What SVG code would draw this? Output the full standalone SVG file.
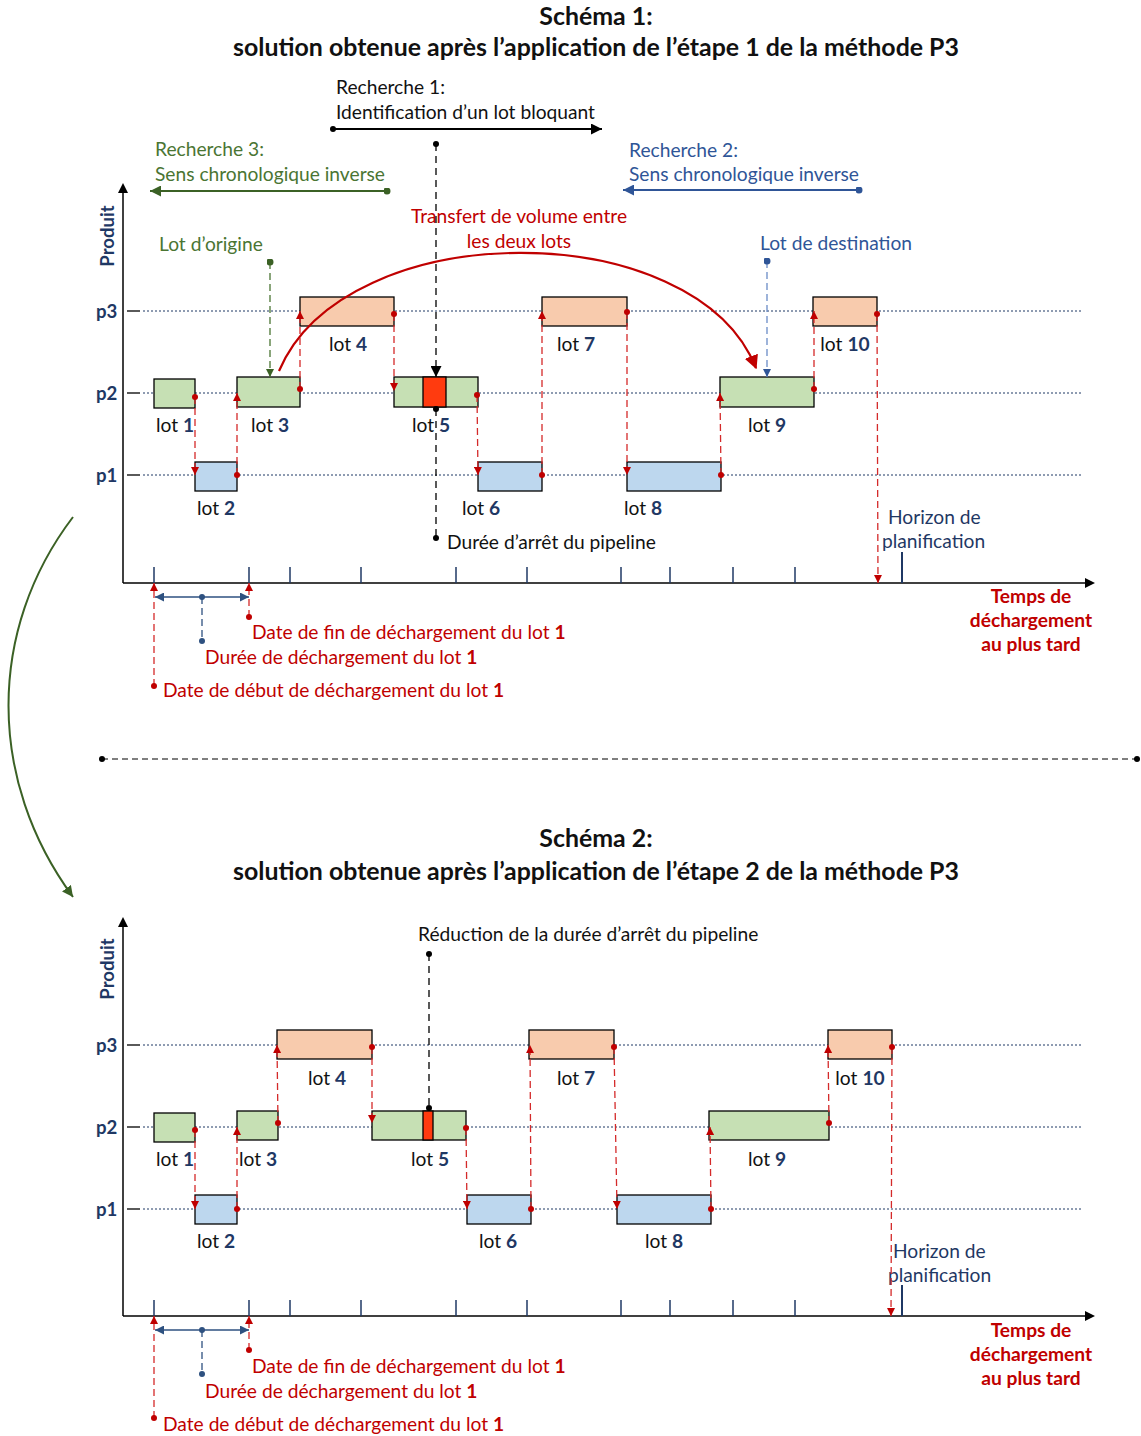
<svg xmlns="http://www.w3.org/2000/svg" width="1141" height="1436" viewBox="0 0 1141 1436">
<defs>
<style>
text{font-family:Lato,"Open Sans","Liberation Sans",sans-serif;font-size:19.2px;fill:#111}
.title{font-weight:bold;font-size:24.9px;text-anchor:middle}
.b{font-weight:bold}
.num{font-weight:bold;fill:#1F3864}
.lbl{text-anchor:middle}
.axl{font-weight:bold;fill:#1F3864;font-size:18.6px}
.red{fill:#C00000}
.redb{fill:#C00000;font-weight:bold;text-anchor:middle}
.grn{fill:#4A7533}
.blu{fill:#2F5597}
.dblu{fill:#1F3864}
.g{stroke:#000;stroke-width:1.3;fill:#C6E0B4}
.bl{stroke:#000;stroke-width:1.3;fill:#BDD7EE}
.o{stroke:#000;stroke-width:1.3;fill:#F8CBAD}
.rs{stroke:#000;stroke-width:1.3;fill:#FF3B0F}
.dot{stroke:#1F3864;stroke-width:1;stroke-dasharray:2,2;fill:none}
.tk{stroke:#000;stroke-width:1.3}
.axis{stroke:#000;stroke-width:1.5;fill:none}
.tick{stroke:#1F3864;stroke-width:1.5}
.rd{stroke:#D42A2A;stroke-width:1.3;stroke-dasharray:7,4;fill:none;marker-start:url(#rDot);marker-end:url(#rArr)}
.bk{stroke:#000;stroke-width:1.3;stroke-dasharray:7,5;fill:none}
</style>
<marker id="rArr" viewBox="0 0 10 10" refX="10" refY="5" markerWidth="8" markerHeight="8" markerUnits="userSpaceOnUse" orient="auto"><path d="M0,0 L10,5 L0,10 z" fill="#C00000"/></marker>
<marker id="rDot" viewBox="0 0 10 10" refX="5" refY="5" markerWidth="6" markerHeight="6" markerUnits="userSpaceOnUse"><circle cx="5" cy="5" r="5" fill="#C00000"/></marker>
<marker id="kArr" viewBox="0 0 10 10" refX="10" refY="5" markerWidth="11" markerHeight="11" markerUnits="userSpaceOnUse" orient="auto"><path d="M0,0 L10,5 L0,10 z" fill="#000"/></marker>
<marker id="kDot" viewBox="0 0 10 10" refX="5" refY="5" markerWidth="6" markerHeight="6" markerUnits="userSpaceOnUse"><circle cx="5" cy="5" r="5" fill="#000"/></marker>
<marker id="gArr" viewBox="0 0 10 10" refX="10" refY="5" markerWidth="11" markerHeight="11" markerUnits="userSpaceOnUse" orient="auto"><path d="M0,0 L10,5 L0,10 z" fill="#3B6125"/></marker>
<marker id="gArrS" viewBox="0 0 10 10" refX="10" refY="5" markerWidth="8" markerHeight="8" markerUnits="userSpaceOnUse" orient="auto"><path d="M0,0 L10,5 L0,10 z" fill="#3B6125"/></marker>
<marker id="gDot" viewBox="0 0 10 10" refX="5" refY="5" markerWidth="7" markerHeight="7" markerUnits="userSpaceOnUse"><circle cx="5" cy="5" r="5" fill="#3B6125"/></marker>
<marker id="bArr" viewBox="0 0 10 10" refX="10" refY="5" markerWidth="11" markerHeight="11" markerUnits="userSpaceOnUse" orient="auto"><path d="M0,0 L10,5 L0,10 z" fill="#2F5597"/></marker>
<marker id="bArrS" viewBox="0 0 10 10" refX="10" refY="5" markerWidth="8" markerHeight="8" markerUnits="userSpaceOnUse" orient="auto"><path d="M0,0 L10,5 L0,10 z" fill="#2F5597"/></marker>
<marker id="bDot" viewBox="0 0 10 10" refX="5" refY="5" markerWidth="7" markerHeight="7" markerUnits="userSpaceOnUse"><circle cx="5" cy="5" r="5" fill="#2F5597"/></marker>
<marker id="nArr" viewBox="0 0 10 10" refX="10" refY="5" markerWidth="9" markerHeight="9" markerUnits="userSpaceOnUse" orient="auto-start-reverse"><path d="M0,0 L10,5 L0,10 z" fill="#2E5180"/></marker>
<marker id="nDot" viewBox="0 0 10 10" refX="5" refY="5" markerWidth="6" markerHeight="6" markerUnits="userSpaceOnUse"><circle cx="5" cy="5" r="5" fill="#2E5180"/></marker>
<marker id="redArr" viewBox="0 0 10 10" refX="9" refY="5" markerWidth="14" markerHeight="14" markerUnits="userSpaceOnUse" orient="auto"><path d="M0,0 L10,5 L0,10 z" fill="#C00000"/></marker>
</defs>
<rect width="1141" height="1436" fill="#fff"/>

<!-- ================= SCHEMA 1 ================= -->
<g id="schema1-title">
<text class="title" x="596" y="25">Schéma 1:</text>
<text class="title" x="596" y="56">solution obtenue après l’application de l’étape 1 de la méthode P3</text>
</g>

<g id="axes1">
<line class="axis" x1="123" y1="583" x2="123" y2="192"/>
<path d="M118,193 L123,183 L128,193 z" fill="#000"/>
<line class="axis" x1="123" y1="583" x2="1086" y2="583"/>
<path d="M1085,578 L1095,583 L1085,588 z" fill="#000"/>
<text class="axl" transform="translate(114,236) rotate(-90)" text-anchor="middle">Produit</text>
<text class="axl" x="96" y="318">p3</text>
<text class="axl" x="96" y="400">p2</text>
<text class="axl" x="96" y="482">p1</text>
<line class="tk" x1="127" y1="311" x2="140" y2="311"/>
<line class="tk" x1="127" y1="393" x2="140" y2="393"/>
<line class="tk" x1="127" y1="475" x2="140" y2="475"/>
<line class="dot" x1="143" y1="311" x2="1082" y2="311"/>
<line class="dot" x1="143" y1="393" x2="1082" y2="393"/>
<line class="dot" x1="143" y1="475" x2="1082" y2="475"/>
<g class="tick">
<line x1="154" y1="567" x2="154" y2="583"/><line x1="249" y1="567" x2="249" y2="583"/>
<line x1="290" y1="567" x2="290" y2="583"/><line x1="361" y1="567" x2="361" y2="583"/>
<line x1="456" y1="567" x2="456" y2="583"/><line x1="527" y1="567" x2="527" y2="583"/>
<line x1="621" y1="567" x2="621" y2="583"/><line x1="670" y1="567" x2="670" y2="583"/>
<line x1="733" y1="567" x2="733" y2="583"/><line x1="795" y1="567" x2="795" y2="583"/>
<line x1="902" y1="552" x2="902" y2="583" stroke-width="2"/>
</g>
<text class="dblu" x="888" y="524">Horizon de</text>
<text class="dblu" x="882" y="548">planification</text>
<text class="redb" x="1031" y="603">Temps de</text>
<text class="redb" x="1031" y="627">déchargement</text>
<text class="redb" x="1031" y="651">au plus tard</text>
</g>

<g id="s1-lot1"><rect class="g" x="154" y="379" width="41" height="29"/><text class="lbl" x="175" y="432">lot <tspan class="num">1</tspan></text></g>
<g id="s1-lot2"><rect class="bl" x="195" y="462" width="42" height="29"/><text class="lbl" x="216" y="515">lot <tspan class="num">2</tspan></text></g>
<g id="s1-lot3"><rect class="g" x="237" y="377" width="63" height="30"/><text class="lbl" x="270" y="432">lot <tspan class="num">3</tspan></text></g>
<g id="s1-lot4"><rect class="o" x="300" y="297" width="94" height="29"/><text class="lbl" x="348" y="351">lot <tspan class="num">4</tspan></text></g>
<g id="s1-lot5"><rect class="g" x="394" y="377" width="84" height="30"/><rect class="rs" x="423" y="377" width="23" height="30"/><text class="lbl" x="431" y="432">lot <tspan class="num">5</tspan></text></g>
<g id="s1-lot6"><rect class="bl" x="478" y="462" width="64" height="29"/><text class="lbl" x="481" y="515">lot <tspan class="num">6</tspan></text></g>
<g id="s1-lot7"><rect class="o" x="542" y="297" width="85" height="29"/><text class="lbl" x="576" y="351">lot <tspan class="num">7</tspan></text></g>
<g id="s1-lot8"><rect class="bl" x="627" y="462" width="94" height="29"/><text class="lbl" x="643" y="515">lot <tspan class="num">8</tspan></text></g>
<g id="s1-lot9"><rect class="g" x="720" y="377" width="94" height="30"/><text class="lbl" x="767" y="432">lot <tspan class="num">9</tspan></text></g>
<g id="s1-lot10"><rect class="o" x="813" y="297" width="64" height="29"/><text class="lbl" x="845" y="351">lot <tspan class="num">10</tspan></text></g>

<g id="s1-annotations">
<text x="336" y="94">Recherche 1:</text>
<text x="336" y="119">Identification d’un lot bloquant</text>
<text class="grn" x="155" y="156">Recherche 3:</text>
<text class="grn" x="155" y="181">Sens chronologique inverse</text>
<text class="blu" x="629" y="157">Recherche 2:</text>
<text class="blu" x="629" y="181">Sens chronologique inverse</text>
<text class="red" x="519" y="223" text-anchor="middle">Transfert de volume entre</text>
<text class="red" x="519" y="248" text-anchor="middle">les deux lots</text>
<text class="grn" x="159" y="251">Lot d’origine</text>
<text class="blu" x="760" y="250">Lot de destination</text>
<text x="447" y="549">Durée d’arrêt du pipeline</text>
</g>

<g id="s1-connectors">
<line x1="333" y1="129" x2="602" y2="129" stroke="#000" stroke-width="1.8" marker-start="url(#kDot)" marker-end="url(#kArr)"/>
<line x1="387" y1="191" x2="150" y2="191" stroke="#3B6125" stroke-width="2" marker-start="url(#gDot)" marker-end="url(#gArr)"/>
<line x1="859" y1="190" x2="623" y2="190" stroke="#2F5597" stroke-width="2" marker-start="url(#bDot)" marker-end="url(#bArr)"/>
<line class="bk" x1="436" y1="144" x2="436" y2="377" marker-start="url(#kDot)" marker-end="url(#kArr)"/>
<line class="bk" x1="436" y1="409" x2="436" y2="538" marker-start="url(#kDot)" marker-end="url(#kDot)"/>
<line x1="270" y1="262" x2="270" y2="377" stroke="#4A7533" stroke-width="1.3" stroke-dasharray="7,4" marker-start="url(#gDot)" marker-end="url(#gArrS)"/>
<line x1="767" y1="261" x2="767" y2="377" stroke="#6A8CC7" stroke-width="1.3" stroke-dasharray="7,4" marker-start="url(#bDot)" marker-end="url(#bArrS)"/>
<path d="M279,371 C345,214 695,214 756,368" fill="none" stroke="#C00000" stroke-width="2.2" marker-end="url(#redArr)"/>
<line class="rd" x1="195" y1="397" x2="195" y2="475"/>
<line class="rd" x1="237" y1="475" x2="237" y2="393"/>
<line class="rd" x1="300" y1="389" x2="300" y2="311"/>
<line class="rd" x1="394" y1="314" x2="394" y2="391"/>
<line class="rd" x1="477" y1="395" x2="478" y2="475"/>
<line class="rd" x1="542" y1="475" x2="542" y2="311"/>
<line class="rd" x1="627" y1="312" x2="627" y2="475"/>
<line class="rd" x1="721" y1="475" x2="720" y2="393"/>
<line class="rd" x1="814" y1="389" x2="814" y2="311"/>
<line class="rd" x1="877" y1="314" x2="878" y2="583"/>
<line class="rd" x1="154" y1="686" x2="154" y2="583"/>
<line class="rd" x1="249" y1="617" x2="249" y2="583"/>
<line x1="155" y1="597" x2="249" y2="597" stroke="#2E5180" stroke-width="1.6" marker-start="url(#nArr)" marker-end="url(#nArr)"/>
<line x1="202" y1="597" x2="202" y2="641" stroke="#2E5180" stroke-width="1.3" stroke-dasharray="7,4" marker-start="url(#nDot)" marker-end="url(#nDot)"/>
</g>
<g id="s1-dates">
<text class="red" x="252" y="639">Date de fin de déchargement du lot <tspan class="b">1</tspan></text>
<text class="red" x="205" y="664">Durée de déchargement du lot <tspan class="b">1</tspan></text>
<text class="red" x="163" y="697">Date de début de déchargement du lot <tspan class="b">1</tspan></text>
</g>

<!-- separator and transition arrow -->
<g id="separator">
<line x1="102" y1="759" x2="1137" y2="759" stroke="#000" stroke-width="1.2" stroke-dasharray="6,4" marker-start="url(#kDot)" marker-end="url(#kDot)"/>
<path d="M73,517 C-13,630 -13,780 73,897" fill="none" stroke="#3B6125" stroke-width="2" marker-end="url(#gArr)"/>
</g>

<!-- ================= SCHEMA 2 ================= -->
<g id="schema2-title">
<text class="title" x="596" y="847">Schéma 2:</text>
<text class="title" x="596" y="880">solution obtenue après l’application de l’étape 2 de la méthode P3</text>
</g>

<g id="axes2">
<line class="axis" x1="123" y1="1316" x2="123" y2="926"/>
<path d="M118,927 L123,917 L128,927 z" fill="#000"/>
<line class="axis" x1="123" y1="1316" x2="1086" y2="1316"/>
<path d="M1085,1311 L1095,1316 L1085,1321 z" fill="#000"/>
<text class="axl" transform="translate(114,969) rotate(-90)" text-anchor="middle">Produit</text>
<text class="axl" x="96" y="1052">p3</text>
<text class="axl" x="96" y="1134">p2</text>
<text class="axl" x="96" y="1216">p1</text>
<line class="tk" x1="127" y1="1045" x2="140" y2="1045"/>
<line class="tk" x1="127" y1="1127" x2="140" y2="1127"/>
<line class="tk" x1="127" y1="1209" x2="140" y2="1209"/>
<line class="dot" x1="143" y1="1045" x2="1082" y2="1045"/>
<line class="dot" x1="143" y1="1127" x2="1082" y2="1127"/>
<line class="dot" x1="143" y1="1209" x2="1082" y2="1209"/>
<g class="tick">
<line x1="154" y1="1300" x2="154" y2="1316"/><line x1="249" y1="1300" x2="249" y2="1316"/>
<line x1="290" y1="1300" x2="290" y2="1316"/><line x1="361" y1="1300" x2="361" y2="1316"/>
<line x1="456" y1="1300" x2="456" y2="1316"/><line x1="527" y1="1300" x2="527" y2="1316"/>
<line x1="621" y1="1300" x2="621" y2="1316"/><line x1="670" y1="1300" x2="670" y2="1316"/>
<line x1="733" y1="1300" x2="733" y2="1316"/><line x1="795" y1="1300" x2="795" y2="1316"/>
<line x1="902" y1="1285" x2="902" y2="1316" stroke-width="2"/>
</g>
<text class="dblu" x="893" y="1258">Horizon de</text>
<text class="dblu" x="888" y="1282">planification</text>
<text class="redb" x="1031" y="1337">Temps de</text>
<text class="redb" x="1031" y="1361">déchargement</text>
<text class="redb" x="1031" y="1385">au plus tard</text>
</g>

<g id="s2-lot1"><rect class="g" x="154" y="1113" width="41" height="29"/><text class="lbl" x="175" y="1166">lot <tspan class="num">1</tspan></text></g>
<g id="s2-lot2"><rect class="bl" x="195" y="1195" width="42" height="29"/><text class="lbl" x="216" y="1248">lot <tspan class="num">2</tspan></text></g>
<g id="s2-lot3"><rect class="g" x="237" y="1111" width="41" height="29"/><text class="lbl" x="258" y="1166">lot <tspan class="num">3</tspan></text></g>
<g id="s2-lot4"><rect class="o" x="277" y="1030" width="95" height="29"/><text class="lbl" x="327" y="1085">lot <tspan class="num">4</tspan></text></g>
<g id="s2-lot5"><rect class="g" x="372" y="1111" width="94" height="29"/><rect class="rs" x="423" y="1111" width="10" height="29"/><text class="lbl" x="430" y="1166">lot <tspan class="num">5</tspan></text></g>
<g id="s2-lot6"><rect class="bl" x="467" y="1195" width="64" height="29"/><text class="lbl" x="498" y="1248">lot <tspan class="num">6</tspan></text></g>
<g id="s2-lot7"><rect class="o" x="529" y="1030" width="85" height="29"/><text class="lbl" x="576" y="1085">lot <tspan class="num">7</tspan></text></g>
<g id="s2-lot8"><rect class="bl" x="617" y="1195" width="94" height="29"/><text class="lbl" x="664" y="1248">lot <tspan class="num">8</tspan></text></g>
<g id="s2-lot9"><rect class="g" x="709" y="1111" width="120" height="29"/><text class="lbl" x="767" y="1166">lot <tspan class="num">9</tspan></text></g>
<g id="s2-lot10"><rect class="o" x="828" y="1030" width="64" height="29"/><text class="lbl" x="860" y="1085">lot <tspan class="num">10</tspan></text></g>

<g id="s2-annotations">
<text x="418" y="941">Réduction de la durée d’arrêt du pipeline</text>
</g>

<g id="s2-connectors">
<line class="bk" x1="429" y1="954" x2="429" y2="1108" marker-start="url(#kDot)" marker-end="url(#kDot)"/>
<line class="rd" x1="195" y1="1130" x2="195" y2="1209"/>
<line class="rd" x1="237" y1="1209" x2="237" y2="1127"/>
<line class="rd" x1="278" y1="1123" x2="277" y2="1045"/>
<line class="rd" x1="372" y1="1047" x2="372" y2="1123"/>
<line class="rd" x1="466" y1="1128" x2="467" y2="1209"/>
<line class="rd" x1="531" y1="1209" x2="530" y2="1045"/>
<line class="rd" x1="614" y1="1047" x2="617" y2="1209"/>
<line class="rd" x1="711" y1="1209" x2="710" y2="1127"/>
<line class="rd" x1="829" y1="1123" x2="828" y2="1045"/>
<line class="rd" x1="892" y1="1047" x2="891" y2="1316"/>
<line class="rd" x1="154" y1="1418" x2="154" y2="1316"/>
<line class="rd" x1="249" y1="1350" x2="249" y2="1316"/>
<line x1="155" y1="1330" x2="249" y2="1330" stroke="#2E5180" stroke-width="1.6" marker-start="url(#nArr)" marker-end="url(#nArr)"/>
<line x1="202" y1="1330" x2="202" y2="1374" stroke="#2E5180" stroke-width="1.3" stroke-dasharray="7,4" marker-start="url(#nDot)" marker-end="url(#nDot)"/>
</g>
<g id="s2-dates">
<text class="red" x="252" y="1373">Date de fin de déchargement du lot <tspan class="b">1</tspan></text>
<text class="red" x="205" y="1398">Durée de déchargement du lot <tspan class="b">1</tspan></text>
<text class="red" x="163" y="1431">Date de début de déchargement du lot <tspan class="b">1</tspan></text>
</g>
</svg>
